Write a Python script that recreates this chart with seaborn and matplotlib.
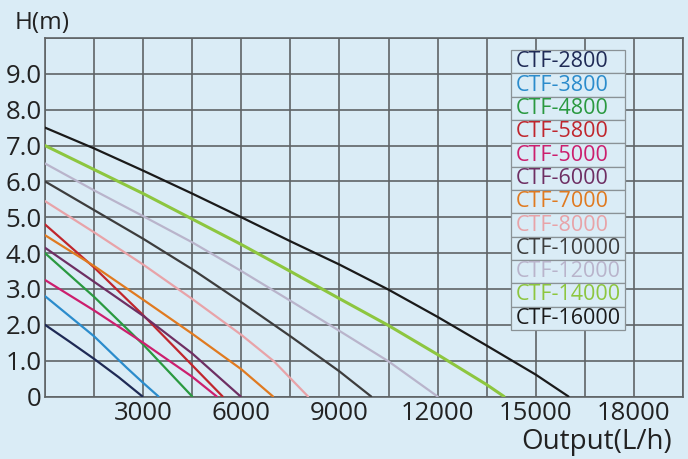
import numpy as np
import pandas as pd
import matplotlib
matplotlib.use("Agg")
import matplotlib.pyplot as plt
import seaborn as sns

# ---- data ----
models = ["CTF-2800", "CTF-3800", "CTF-4800", "CTF-5800", "CTF-5000", "CTF-6000",
          "CTF-7000", "CTF-8000", "CTF-10000", "CTF-12000", "CTF-14000", "CTF-16000"]

flow_2800 = [0, 750, 1500, 2250, 2980]
head_2800 = [2.0, 1.53, 1.05, 0.54, 0.0]
flow_3800 = [0, 1500, 2500, 3000, 3470]
head_3800 = [2.8, 1.68, 0.8, 0.38, 0.0]
flow_4800 = [0, 1500, 3000, 4500]
head_4800 = [4.0, 2.78, 1.45, 0.0]
flow_5800 = [0, 1500, 3000, 4500, 5430]
head_5800 = [4.8, 3.6, 2.27, 0.87, 0.0]
flow_5000 = [0, 1500, 3000, 4500, 5250]
head_5000 = [3.25, 2.4, 1.5, 0.55, 0.0]
flow_6000 = [0, 1500, 3000, 4500, 5980]
head_6000 = [4.15, 3.2, 2.25, 1.2, 0.0]
flow_7000 = [0, 1500, 3000, 4500, 6000, 6970]
head_7000 = [4.5, 3.64, 2.7, 1.75, 0.76, 0.0]
flow_8000 = [0, 1500, 3000, 4500, 6000, 7000, 8040]
head_8000 = [5.45, 4.58, 3.68, 2.72, 1.72, 0.98, 0.0]
flow_10000 = [0, 1500, 3000, 4500, 6000, 7500, 9000, 9970]
head_10000 = [6.0, 5.2, 4.4, 3.55, 2.63, 1.68, 0.7, 0.0]
flow_12000 = [0, 1500, 3000, 4500, 6000, 7500, 9000, 10500, 12000]
head_12000 = [6.5, 5.75, 5.03, 4.3, 3.5, 2.67, 1.83, 0.98, 0.0]
flow_14000 = [0, 1500, 3000, 4500, 6000, 7500, 9000, 10500, 12000, 13500, 14030]
head_14000 = [7.0, 6.33, 5.66, 4.95, 4.24, 3.49, 2.73, 1.98, 1.17, 0.33, 0.0]
flow_16000 = [0, 1500, 3000, 4500, 6000, 7500, 9000, 10500, 12000, 13500, 15000, 16000]
head_16000 = [7.5, 6.92, 6.3, 5.66, 5.0, 4.33, 3.68, 2.98, 2.22, 1.42, 0.61, 0.0]

colors = ["#1f2a55", "#2b8ccc", "#2a9940", "#c0262d", "#cc1f6e", "#6e2f63",
          "#e07a20", "#e8a3a8", "#3d3d3d", "#b9b4cb", "#8dc63f", "#1a1a1a"]

x_ticks = [0, 1500, 3000, 4500, 6000, 7500, 9000, 10500, 12000, 13500, 15000, 16500, 18000, 19500]
x_labels = ["", "", "3000", "", "6000", "", "9000", "", "12000", "", "15000", "", "18000", ""]
y_ticks = [0, 1, 2, 3, 4, 5, 6, 7, 8, 9, 10]
y_labels = ["0", "1.0", "2.0", "3.0", "4.0", "5.0", "6.0", "7.0", "8.0", "9.0", ""]

flows = [flow_2800, flow_3800, flow_4800, flow_5800, flow_5000, flow_6000,
         flow_7000, flow_8000, flow_10000, flow_12000, flow_14000, flow_16000]
heads = [head_2800, head_3800, head_4800, head_5800, head_5000, head_6000,
         head_7000, head_8000, head_10000, head_12000, head_14000, head_16000]

rows = []
for m, fl, hd in zip(models, flows, heads):
    for f, h in zip(fl, hd):
        rows.append({"model": m, "flow": f, "head": h})
df = pd.DataFrame(rows)

# ---- style ----
bg = "#daecf6"
gridc = "#5f6466"
sns.set_theme(style="white")
plt.rcParams["font.family"] = ["Open Sans", "DejaVu Sans"]

fig = plt.figure(figsize=(6.88, 4.59), dpi=100, facecolor=bg)
ax = fig.add_axes([45 / 688, 1 - 396.5 / 459, 638 / 688, 358.5 / 459])
ax.set_facecolor(bg)

palette = dict(zip(models, colors))
lw = {m: 1.6 for m in models}
lw["CTF-14000"] = 2.2
for m in models:
    sns.lineplot(data=df[df["model"] == m], x="flow", y="head", color=palette[m],
                 lw=lw[m], ax=ax, sort=False, estimator=None, legend=False, zorder=3)

ax.set_xlim(0, 19500)
ax.set_ylim(0, 10)
ax.set_xticks(x_ticks)
ax.set_xticklabels(x_labels)
ax.set_yticks(y_ticks)
ax.set_yticklabels(y_labels)
ax.tick_params(axis="both", length=0, labelsize=18.5, colors="#222222")
ax.tick_params(axis="x", pad=3.5)
ax.tick_params(axis="y", pad=2.5)
ax.grid(True, color=gridc, lw=1.2, zorder=1)
ax.set_axisbelow(True)
for s in ax.spines.values():
    s.set_visible(True)
    s.set_color(gridc)
    s.set_linewidth(1.2)
ax.set_xlabel("")
ax.set_ylabel("")

# legend drawn as a boxed table
tbl = ax.table(cellText=[[m] for m in models], cellLoc="left",
               bbox=[0.730, 0.1855, 0.179, 0.781])
tbl.auto_set_font_size(False)
tbl.set_fontsize(15.5)
tbl.set_zorder(6)
for i, m in enumerate(models):
    cell = tbl[i, 0]
    cell.set_facecolor(bg)
    cell.set_edgecolor("#8a9296")
    cell.set_linewidth(0.9)
    cell.PAD = 0.04
    cell.get_text().set_color(palette[m])
    cell.get_text().set_fontfamily(["Open Sans", "DejaVu Sans"])

fig.text(15 / 688, 1 - 29 / 459, "H(m)", fontsize=17.5, color="#222222",
         ha="left", va="baseline")
fig.text(672 / 688, 1 - 449 / 459, "Output(L/h)", fontsize=20, color="#222222",
         ha="right", va="baseline")

fig.savefig("out.png", dpi=100, facecolor=bg)
